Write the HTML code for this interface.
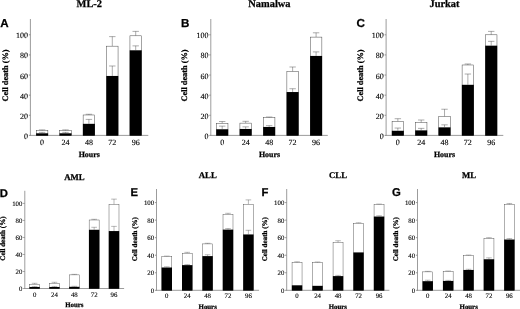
<!DOCTYPE html>
<html><head><meta charset="utf-8"><title>Figure</title>
<style>
html,body{margin:0;padding:0;background:#fff;}
body{width:520px;height:309px;overflow:hidden;font-family:"Liberation Serif",serif;}
svg{display:block;font-family:"Liberation Serif",serif;filter:blur(0.45px);text-rendering:geometricPrecision;}
</style></head><body>
<svg width="520" height="309" viewBox="0 0 520 309">
<rect width="520" height="309" fill="#fff"/>
<!-- panel A -->
<text x="0.3" y="26.9" font-family="Liberation Sans, sans-serif" font-size="11.6" font-weight="bold" stroke="#000" stroke-width="0.25">A</text>
<text x="89.3" y="7.2" font-size="10.4" text-anchor="middle" font-weight="bold" stroke="#000" stroke-width="0.25">ML-2</text>
<line x1="30.4" y1="19" x2="30.4" y2="135.8" stroke="#8a8a8a" stroke-width="0.85"/>
<line x1="30" y1="135.4" x2="148.3" y2="135.4" stroke="#8a8a8a" stroke-width="0.85"/>
<line x1="28.9" y1="135.4" x2="30.4" y2="135.4" stroke="#8a8a8a" stroke-width="0.9"/>
<text x="28.1" y="138.88" font-size="8" text-anchor="end" stroke="#000" stroke-width="0.12">0</text>
<line x1="28.9" y1="115.28" x2="30.4" y2="115.28" stroke="#8a8a8a" stroke-width="0.9"/>
<text x="28.1" y="118.76" font-size="8" text-anchor="end" stroke="#000" stroke-width="0.12">20</text>
<line x1="28.9" y1="95.16" x2="30.4" y2="95.16" stroke="#8a8a8a" stroke-width="0.9"/>
<text x="28.1" y="98.64" font-size="8" text-anchor="end" stroke="#000" stroke-width="0.12">40</text>
<line x1="28.9" y1="75.04" x2="30.4" y2="75.04" stroke="#8a8a8a" stroke-width="0.9"/>
<text x="28.1" y="78.52" font-size="8" text-anchor="end" stroke="#000" stroke-width="0.12">60</text>
<line x1="28.9" y1="54.92" x2="30.4" y2="54.92" stroke="#8a8a8a" stroke-width="0.9"/>
<text x="28.1" y="58.4" font-size="8" text-anchor="end" stroke="#000" stroke-width="0.12">80</text>
<line x1="28.9" y1="34.8" x2="30.4" y2="34.8" stroke="#8a8a8a" stroke-width="0.9"/>
<text x="28.1" y="38.28" font-size="8" text-anchor="end" stroke="#000" stroke-width="0.12">100</text>
<line x1="42.1" y1="129.87" x2="42.1" y2="130.67" stroke="#3a3a3a" stroke-width="0.42"/>
<line x1="38.9" y1="129.87" x2="45.3" y2="129.87" stroke="#3a3a3a" stroke-width="0.42"/>
<rect x="36.34" y="130.67" width="11.52" height="4.73" fill="#fff" stroke="#404040" stroke-width="0.48"/>
<rect x="36.1" y="133.29" width="12" height="2.41" fill="#000"/>
<line x1="42.1" y1="132.38" x2="42.1" y2="133.29" stroke="#3a3a3a" stroke-width="0.42"/>
<line x1="38.9" y1="132.38" x2="45.3" y2="132.38" stroke="#3a3a3a" stroke-width="0.42"/>
<text x="42.1" y="145.1" font-size="8" text-anchor="middle" stroke="#000" stroke-width="0.12">0</text>
<line x1="65.5" y1="129.87" x2="65.5" y2="130.67" stroke="#3a3a3a" stroke-width="0.42"/>
<line x1="62.3" y1="129.87" x2="68.7" y2="129.87" stroke="#3a3a3a" stroke-width="0.42"/>
<rect x="59.74" y="130.67" width="11.52" height="4.73" fill="#fff" stroke="#404040" stroke-width="0.48"/>
<rect x="59.5" y="133.29" width="12" height="2.41" fill="#000"/>
<line x1="65.5" y1="132.38" x2="65.5" y2="133.29" stroke="#3a3a3a" stroke-width="0.42"/>
<line x1="62.3" y1="132.38" x2="68.7" y2="132.38" stroke="#3a3a3a" stroke-width="0.42"/>
<text x="65.5" y="145.1" font-size="8" text-anchor="middle" stroke="#000" stroke-width="0.12">24</text>
<line x1="88.9" y1="114.27" x2="88.9" y2="114.98" stroke="#3a3a3a" stroke-width="0.42"/>
<line x1="85.7" y1="114.27" x2="92.1" y2="114.27" stroke="#3a3a3a" stroke-width="0.42"/>
<rect x="83.14" y="114.98" width="11.52" height="20.42" fill="#fff" stroke="#404040" stroke-width="0.48"/>
<rect x="82.9" y="123.83" width="12" height="11.87" fill="#000"/>
<line x1="88.9" y1="119.4" x2="88.9" y2="123.83" stroke="#3a3a3a" stroke-width="0.42"/>
<line x1="85.7" y1="119.4" x2="92.1" y2="119.4" stroke="#3a3a3a" stroke-width="0.42"/>
<text x="88.9" y="145.1" font-size="8" text-anchor="middle" stroke="#000" stroke-width="0.12">48</text>
<line x1="112.3" y1="36.61" x2="112.3" y2="46.17" stroke="#3a3a3a" stroke-width="0.42"/>
<line x1="109.1" y1="36.61" x2="115.5" y2="36.61" stroke="#3a3a3a" stroke-width="0.42"/>
<rect x="106.54" y="46.17" width="11.52" height="89.23" fill="#fff" stroke="#404040" stroke-width="0.48"/>
<rect x="106.3" y="75.95" width="12" height="59.75" fill="#000"/>
<line x1="112.3" y1="65.99" x2="112.3" y2="75.95" stroke="#3a3a3a" stroke-width="0.42"/>
<line x1="109.1" y1="65.99" x2="115.5" y2="65.99" stroke="#3a3a3a" stroke-width="0.42"/>
<text x="112.3" y="145.1" font-size="8" text-anchor="middle" stroke="#000" stroke-width="0.12">72</text>
<line x1="135.7" y1="31.38" x2="135.7" y2="35.81" stroke="#3a3a3a" stroke-width="0.42"/>
<line x1="132.5" y1="31.38" x2="138.9" y2="31.38" stroke="#3a3a3a" stroke-width="0.42"/>
<rect x="129.94" y="35.81" width="11.52" height="99.59" fill="#fff" stroke="#404040" stroke-width="0.48"/>
<rect x="129.7" y="50.29" width="12" height="85.41" fill="#000"/>
<line x1="135.7" y1="45.87" x2="135.7" y2="50.29" stroke="#3a3a3a" stroke-width="0.42"/>
<line x1="132.5" y1="45.87" x2="138.9" y2="45.87" stroke="#3a3a3a" stroke-width="0.42"/>
<text x="135.7" y="145.1" font-size="8" text-anchor="middle" stroke="#000" stroke-width="0.12">96</text>
<text x="89.2" y="156.9" font-size="7.9" text-anchor="middle" font-weight="bold" stroke="#000" stroke-width="0.25">Hours</text>
<text transform="translate(7.5,75.5) rotate(-90)" font-size="8.3" font-weight="bold" stroke="#000" stroke-width="0.25" text-anchor="middle">Cell death (%)</text>
<!-- panel B -->
<text x="181.1" y="26.9" font-family="Liberation Sans, sans-serif" font-size="11.6" font-weight="bold" stroke="#000" stroke-width="0.25">B</text>
<text x="269.4" y="7.2" font-size="10.4" text-anchor="middle" font-weight="bold" stroke="#000" stroke-width="0.25">Namalwa</text>
<line x1="210.8" y1="19" x2="210.8" y2="135.8" stroke="#8a8a8a" stroke-width="0.85"/>
<line x1="210.4" y1="135.4" x2="327.8" y2="135.4" stroke="#8a8a8a" stroke-width="0.85"/>
<line x1="209.3" y1="135.4" x2="210.8" y2="135.4" stroke="#8a8a8a" stroke-width="0.9"/>
<text x="208.5" y="138.88" font-size="8" text-anchor="end" stroke="#000" stroke-width="0.12">0</text>
<line x1="209.3" y1="115.28" x2="210.8" y2="115.28" stroke="#8a8a8a" stroke-width="0.9"/>
<text x="208.5" y="118.76" font-size="8" text-anchor="end" stroke="#000" stroke-width="0.12">20</text>
<line x1="209.3" y1="95.16" x2="210.8" y2="95.16" stroke="#8a8a8a" stroke-width="0.9"/>
<text x="208.5" y="98.64" font-size="8" text-anchor="end" stroke="#000" stroke-width="0.12">40</text>
<line x1="209.3" y1="75.04" x2="210.8" y2="75.04" stroke="#8a8a8a" stroke-width="0.9"/>
<text x="208.5" y="78.52" font-size="8" text-anchor="end" stroke="#000" stroke-width="0.12">60</text>
<line x1="209.3" y1="54.92" x2="210.8" y2="54.92" stroke="#8a8a8a" stroke-width="0.9"/>
<text x="208.5" y="58.4" font-size="8" text-anchor="end" stroke="#000" stroke-width="0.12">80</text>
<line x1="209.3" y1="34.8" x2="210.8" y2="34.8" stroke="#8a8a8a" stroke-width="0.9"/>
<text x="208.5" y="38.28" font-size="8" text-anchor="end" stroke="#000" stroke-width="0.12">100</text>
<line x1="222.2" y1="121.52" x2="222.2" y2="123.43" stroke="#3a3a3a" stroke-width="0.42"/>
<line x1="219" y1="121.52" x2="225.4" y2="121.52" stroke="#3a3a3a" stroke-width="0.42"/>
<rect x="216.44" y="123.43" width="11.52" height="11.97" fill="#fff" stroke="#404040" stroke-width="0.48"/>
<rect x="216.2" y="129.26" width="12" height="6.44" fill="#000"/>
<line x1="222.2" y1="126.14" x2="222.2" y2="129.26" stroke="#3a3a3a" stroke-width="0.42"/>
<line x1="219" y1="126.14" x2="225.4" y2="126.14" stroke="#3a3a3a" stroke-width="0.42"/>
<text x="222.2" y="145.1" font-size="8" text-anchor="middle" stroke="#000" stroke-width="0.12">0</text>
<line x1="245.67" y1="121.32" x2="245.67" y2="123.13" stroke="#3a3a3a" stroke-width="0.42"/>
<line x1="242.47" y1="121.32" x2="248.87" y2="121.32" stroke="#3a3a3a" stroke-width="0.42"/>
<rect x="239.91" y="123.13" width="11.52" height="12.27" fill="#fff" stroke="#404040" stroke-width="0.48"/>
<rect x="239.67" y="128.96" width="12" height="6.74" fill="#000"/>
<line x1="245.67" y1="126.85" x2="245.67" y2="128.96" stroke="#3a3a3a" stroke-width="0.42"/>
<line x1="242.47" y1="126.85" x2="248.87" y2="126.85" stroke="#3a3a3a" stroke-width="0.42"/>
<text x="245.67" y="145.1" font-size="8" text-anchor="middle" stroke="#000" stroke-width="0.12">24</text>
<line x1="269.15" y1="116.99" x2="269.15" y2="117.69" stroke="#3a3a3a" stroke-width="0.42"/>
<line x1="265.95" y1="116.99" x2="272.35" y2="116.99" stroke="#3a3a3a" stroke-width="0.42"/>
<rect x="263.39" y="117.69" width="11.52" height="17.71" fill="#fff" stroke="#404040" stroke-width="0.48"/>
<rect x="263.15" y="126.95" width="12" height="8.75" fill="#000"/>
<line x1="269.15" y1="125.64" x2="269.15" y2="126.95" stroke="#3a3a3a" stroke-width="0.42"/>
<line x1="265.95" y1="125.64" x2="272.35" y2="125.64" stroke="#3a3a3a" stroke-width="0.42"/>
<text x="269.15" y="145.1" font-size="8" text-anchor="middle" stroke="#000" stroke-width="0.12">48</text>
<line x1="292.62" y1="66.99" x2="292.62" y2="71.52" stroke="#3a3a3a" stroke-width="0.42"/>
<line x1="289.43" y1="66.99" x2="295.82" y2="66.99" stroke="#3a3a3a" stroke-width="0.42"/>
<rect x="286.87" y="71.52" width="11.52" height="63.88" fill="#fff" stroke="#404040" stroke-width="0.48"/>
<rect x="286.62" y="92.04" width="12" height="43.66" fill="#000"/>
<line x1="292.62" y1="88.72" x2="292.62" y2="92.04" stroke="#3a3a3a" stroke-width="0.42"/>
<line x1="289.43" y1="88.72" x2="295.82" y2="88.72" stroke="#3a3a3a" stroke-width="0.42"/>
<text x="292.62" y="145.1" font-size="8" text-anchor="middle" stroke="#000" stroke-width="0.12">72</text>
<line x1="316.1" y1="32.79" x2="316.1" y2="37.11" stroke="#3a3a3a" stroke-width="0.42"/>
<line x1="312.9" y1="32.79" x2="319.3" y2="32.79" stroke="#3a3a3a" stroke-width="0.42"/>
<rect x="310.34" y="37.11" width="11.52" height="98.29" fill="#fff" stroke="#404040" stroke-width="0.48"/>
<rect x="310.1" y="55.93" width="12" height="79.77" fill="#000"/>
<line x1="316.1" y1="51.9" x2="316.1" y2="55.93" stroke="#3a3a3a" stroke-width="0.42"/>
<line x1="312.9" y1="51.9" x2="319.3" y2="51.9" stroke="#3a3a3a" stroke-width="0.42"/>
<text x="316.1" y="145.1" font-size="8" text-anchor="middle" stroke="#000" stroke-width="0.12">96</text>
<text x="269.5" y="156.9" font-size="7.9" text-anchor="middle" font-weight="bold" stroke="#000" stroke-width="0.25">Hours</text>
<text transform="translate(186.6,75.5) rotate(-90)" font-size="8.3" font-weight="bold" stroke="#000" stroke-width="0.25" text-anchor="middle">Cell death (%)</text>
<!-- panel C -->
<text x="356.5" y="26.9" font-family="Liberation Sans, sans-serif" font-size="11.6" font-weight="bold" stroke="#000" stroke-width="0.25">C</text>
<text x="444.5" y="7.2" font-size="10.4" text-anchor="middle" font-weight="bold" stroke="#000" stroke-width="0.25">Jurkat</text>
<line x1="386.1" y1="19" x2="386.1" y2="135.8" stroke="#8a8a8a" stroke-width="0.85"/>
<line x1="385.7" y1="135.4" x2="503.3" y2="135.4" stroke="#8a8a8a" stroke-width="0.85"/>
<line x1="384.6" y1="135.4" x2="386.1" y2="135.4" stroke="#8a8a8a" stroke-width="0.9"/>
<text x="383.8" y="138.88" font-size="8" text-anchor="end" stroke="#000" stroke-width="0.12">0</text>
<line x1="384.6" y1="115.28" x2="386.1" y2="115.28" stroke="#8a8a8a" stroke-width="0.9"/>
<text x="383.8" y="118.76" font-size="8" text-anchor="end" stroke="#000" stroke-width="0.12">20</text>
<line x1="384.6" y1="95.16" x2="386.1" y2="95.16" stroke="#8a8a8a" stroke-width="0.9"/>
<text x="383.8" y="98.64" font-size="8" text-anchor="end" stroke="#000" stroke-width="0.12">40</text>
<line x1="384.6" y1="75.04" x2="386.1" y2="75.04" stroke="#8a8a8a" stroke-width="0.9"/>
<text x="383.8" y="78.52" font-size="8" text-anchor="end" stroke="#000" stroke-width="0.12">60</text>
<line x1="384.6" y1="54.92" x2="386.1" y2="54.92" stroke="#8a8a8a" stroke-width="0.9"/>
<text x="383.8" y="58.4" font-size="8" text-anchor="end" stroke="#000" stroke-width="0.12">80</text>
<line x1="384.6" y1="34.8" x2="386.1" y2="34.8" stroke="#8a8a8a" stroke-width="0.9"/>
<text x="383.8" y="38.28" font-size="8" text-anchor="end" stroke="#000" stroke-width="0.12">100</text>
<line x1="397.85" y1="118.7" x2="397.85" y2="121.52" stroke="#3a3a3a" stroke-width="0.42"/>
<line x1="394.65" y1="118.7" x2="401.05" y2="118.7" stroke="#3a3a3a" stroke-width="0.42"/>
<rect x="392.09" y="121.52" width="11.52" height="13.88" fill="#fff" stroke="#404040" stroke-width="0.48"/>
<rect x="391.85" y="130.77" width="12" height="4.93" fill="#000"/>
<line x1="397.85" y1="128.06" x2="397.85" y2="130.77" stroke="#3a3a3a" stroke-width="0.42"/>
<line x1="394.65" y1="128.06" x2="401.05" y2="128.06" stroke="#3a3a3a" stroke-width="0.42"/>
<text x="397.85" y="145.1" font-size="8" text-anchor="middle" stroke="#000" stroke-width="0.12">0</text>
<line x1="421.19" y1="120.01" x2="421.19" y2="122.62" stroke="#3a3a3a" stroke-width="0.42"/>
<line x1="417.99" y1="120.01" x2="424.39" y2="120.01" stroke="#3a3a3a" stroke-width="0.42"/>
<rect x="415.43" y="122.62" width="11.52" height="12.78" fill="#fff" stroke="#404040" stroke-width="0.48"/>
<rect x="415.19" y="130.37" width="12" height="5.33" fill="#000"/>
<line x1="421.19" y1="128.36" x2="421.19" y2="130.37" stroke="#3a3a3a" stroke-width="0.42"/>
<line x1="417.99" y1="128.36" x2="424.39" y2="128.36" stroke="#3a3a3a" stroke-width="0.42"/>
<text x="421.19" y="145.1" font-size="8" text-anchor="middle" stroke="#000" stroke-width="0.12">24</text>
<line x1="444.53" y1="109.24" x2="444.53" y2="116.59" stroke="#3a3a3a" stroke-width="0.42"/>
<line x1="441.33" y1="109.24" x2="447.73" y2="109.24" stroke="#3a3a3a" stroke-width="0.42"/>
<rect x="438.77" y="116.59" width="11.52" height="18.81" fill="#fff" stroke="#404040" stroke-width="0.48"/>
<rect x="438.53" y="127.35" width="12" height="8.35" fill="#000"/>
<line x1="444.53" y1="124.84" x2="444.53" y2="127.35" stroke="#3a3a3a" stroke-width="0.42"/>
<line x1="441.33" y1="124.84" x2="447.73" y2="124.84" stroke="#3a3a3a" stroke-width="0.42"/>
<text x="444.53" y="145.1" font-size="8" text-anchor="middle" stroke="#000" stroke-width="0.12">48</text>
<line x1="467.87" y1="63.97" x2="467.87" y2="64.98" stroke="#3a3a3a" stroke-width="0.42"/>
<line x1="464.67" y1="63.97" x2="471.07" y2="63.97" stroke="#3a3a3a" stroke-width="0.42"/>
<rect x="462.11" y="64.98" width="11.52" height="70.42" fill="#fff" stroke="#404040" stroke-width="0.48"/>
<rect x="461.87" y="84.8" width="12" height="50.9" fill="#000"/>
<line x1="467.87" y1="74.03" x2="467.87" y2="84.8" stroke="#3a3a3a" stroke-width="0.42"/>
<line x1="464.67" y1="74.03" x2="471.07" y2="74.03" stroke="#3a3a3a" stroke-width="0.42"/>
<text x="467.87" y="145.1" font-size="8" text-anchor="middle" stroke="#000" stroke-width="0.12">72</text>
<line x1="491.21" y1="31.38" x2="491.21" y2="34.8" stroke="#3a3a3a" stroke-width="0.42"/>
<line x1="488.01" y1="31.38" x2="494.41" y2="31.38" stroke="#3a3a3a" stroke-width="0.42"/>
<rect x="485.45" y="34.8" width="11.52" height="100.6" fill="#fff" stroke="#404040" stroke-width="0.48"/>
<rect x="485.21" y="45.66" width="12" height="90.04" fill="#000"/>
<line x1="491.21" y1="41.34" x2="491.21" y2="45.66" stroke="#3a3a3a" stroke-width="0.42"/>
<line x1="488.01" y1="41.34" x2="494.41" y2="41.34" stroke="#3a3a3a" stroke-width="0.42"/>
<text x="491.21" y="145.1" font-size="8" text-anchor="middle" stroke="#000" stroke-width="0.12">96</text>
<text x="444.5" y="156.9" font-size="7.9" text-anchor="middle" font-weight="bold" stroke="#000" stroke-width="0.25">Hours</text>
<text transform="translate(362.5,75.5) rotate(-90)" font-size="8.3" font-weight="bold" stroke="#000" stroke-width="0.25" text-anchor="middle">Cell death (%)</text>
<!-- panel D -->
<text x="-0.3" y="196.7" font-family="Liberation Sans, sans-serif" font-size="11.3" font-weight="bold" stroke="#000" stroke-width="0.25">D</text>
<text x="74.4" y="180" font-size="8.75" text-anchor="middle" font-weight="bold" stroke="#000" stroke-width="0.25">AML</text>
<line x1="24.8" y1="190.8" x2="24.8" y2="288.9" stroke="#8a8a8a" stroke-width="0.85"/>
<line x1="24.4" y1="288.5" x2="124.1" y2="288.5" stroke="#8a8a8a" stroke-width="0.85"/>
<line x1="23.2" y1="288.5" x2="24.8" y2="288.5" stroke="#8a8a8a" stroke-width="0.9"/>
<text x="22.4" y="291.18" font-size="6.8" text-anchor="end" stroke="#000" stroke-width="0.12">0</text>
<line x1="23.2" y1="271.48" x2="24.8" y2="271.48" stroke="#8a8a8a" stroke-width="0.9"/>
<text x="22.4" y="274.16" font-size="6.8" text-anchor="end" stroke="#000" stroke-width="0.12">20</text>
<line x1="23.2" y1="254.46" x2="24.8" y2="254.46" stroke="#8a8a8a" stroke-width="0.9"/>
<text x="22.4" y="257.14" font-size="6.8" text-anchor="end" stroke="#000" stroke-width="0.12">40</text>
<line x1="23.2" y1="237.44" x2="24.8" y2="237.44" stroke="#8a8a8a" stroke-width="0.9"/>
<text x="22.4" y="240.12" font-size="6.8" text-anchor="end" stroke="#000" stroke-width="0.12">60</text>
<line x1="23.2" y1="220.42" x2="24.8" y2="220.42" stroke="#8a8a8a" stroke-width="0.9"/>
<text x="22.4" y="223.1" font-size="6.8" text-anchor="end" stroke="#000" stroke-width="0.12">80</text>
<line x1="23.2" y1="203.4" x2="24.8" y2="203.4" stroke="#8a8a8a" stroke-width="0.9"/>
<text x="22.4" y="206.08" font-size="6.8" text-anchor="end" stroke="#000" stroke-width="0.12">100</text>
<line x1="34.6" y1="283.31" x2="34.6" y2="284.25" stroke="#3a3a3a" stroke-width="0.36"/>
<line x1="31.8" y1="283.31" x2="37.4" y2="283.31" stroke="#3a3a3a" stroke-width="0.36"/>
<rect x="29.61" y="284.25" width="9.98" height="4.25" fill="#fff" stroke="#404040" stroke-width="0.42"/>
<rect x="29.4" y="286.97" width="10.4" height="1.83" fill="#000"/>
<line x1="34.6" y1="286.54" x2="34.6" y2="286.97" stroke="#3a3a3a" stroke-width="0.36"/>
<line x1="31.8" y1="286.54" x2="37.4" y2="286.54" stroke="#3a3a3a" stroke-width="0.36"/>
<text x="34.6" y="297.3" font-size="6.8" text-anchor="middle" stroke="#000" stroke-width="0.12">0</text>
<line x1="54.45" y1="282.29" x2="54.45" y2="283.31" stroke="#3a3a3a" stroke-width="0.36"/>
<line x1="51.65" y1="282.29" x2="57.25" y2="282.29" stroke="#3a3a3a" stroke-width="0.36"/>
<rect x="49.46" y="283.31" width="9.98" height="5.19" fill="#fff" stroke="#404040" stroke-width="0.42"/>
<rect x="49.25" y="286.97" width="10.4" height="1.83" fill="#000"/>
<line x1="54.45" y1="286.46" x2="54.45" y2="286.97" stroke="#3a3a3a" stroke-width="0.36"/>
<line x1="51.65" y1="286.46" x2="57.25" y2="286.46" stroke="#3a3a3a" stroke-width="0.36"/>
<text x="54.45" y="297.3" font-size="6.8" text-anchor="middle" stroke="#000" stroke-width="0.12">24</text>
<line x1="74.3" y1="274.37" x2="74.3" y2="274.88" stroke="#3a3a3a" stroke-width="0.36"/>
<line x1="71.5" y1="274.37" x2="77.1" y2="274.37" stroke="#3a3a3a" stroke-width="0.36"/>
<rect x="69.31" y="274.88" width="9.98" height="13.62" fill="#fff" stroke="#404040" stroke-width="0.42"/>
<rect x="69.1" y="286.8" width="10.4" height="2" fill="#000"/>
<line x1="74.3" y1="286.29" x2="74.3" y2="286.8" stroke="#3a3a3a" stroke-width="0.36"/>
<line x1="71.5" y1="286.29" x2="77.1" y2="286.29" stroke="#3a3a3a" stroke-width="0.36"/>
<text x="74.3" y="297.3" font-size="6.8" text-anchor="middle" stroke="#000" stroke-width="0.12">48</text>
<line x1="94.15" y1="219.31" x2="94.15" y2="219.99" stroke="#3a3a3a" stroke-width="0.36"/>
<line x1="91.35" y1="219.31" x2="96.95" y2="219.31" stroke="#3a3a3a" stroke-width="0.36"/>
<rect x="89.16" y="219.99" width="9.98" height="68.51" fill="#fff" stroke="#404040" stroke-width="0.42"/>
<rect x="88.95" y="229.78" width="10.4" height="59.02" fill="#000"/>
<line x1="94.15" y1="227.31" x2="94.15" y2="229.78" stroke="#3a3a3a" stroke-width="0.36"/>
<line x1="91.35" y1="227.31" x2="96.95" y2="227.31" stroke="#3a3a3a" stroke-width="0.36"/>
<text x="94.15" y="297.3" font-size="6.8" text-anchor="middle" stroke="#000" stroke-width="0.12">72</text>
<line x1="114" y1="199.14" x2="114" y2="204.51" stroke="#3a3a3a" stroke-width="0.36"/>
<line x1="111.2" y1="199.14" x2="116.8" y2="199.14" stroke="#3a3a3a" stroke-width="0.36"/>
<rect x="109.01" y="204.51" width="9.98" height="83.99" fill="#fff" stroke="#404040" stroke-width="0.42"/>
<rect x="108.8" y="231.06" width="10.4" height="57.74" fill="#000"/>
<line x1="114" y1="226.38" x2="114" y2="231.06" stroke="#3a3a3a" stroke-width="0.36"/>
<line x1="111.2" y1="226.38" x2="116.8" y2="226.38" stroke="#3a3a3a" stroke-width="0.36"/>
<text x="114" y="297.3" font-size="6.8" text-anchor="middle" stroke="#000" stroke-width="0.12">96</text>
<text x="74.3" y="307" font-size="6.85" text-anchor="middle" font-weight="bold" stroke="#000" stroke-width="0.25">Hours</text>
<text transform="translate(5.3,238.6) rotate(-90)" font-size="7.05" font-weight="bold" stroke="#000" stroke-width="0.25" text-anchor="middle">Cell death (%)</text>
<!-- panel E -->
<text x="130.4" y="196.2" font-family="Liberation Sans, sans-serif" font-size="11.3" font-weight="bold" stroke="#000" stroke-width="0.25">E</text>
<text x="207.75" y="178" font-size="8.75" text-anchor="middle" font-weight="bold" stroke="#000" stroke-width="0.25">ALL</text>
<line x1="156.5" y1="189" x2="156.5" y2="290.7" stroke="#8a8a8a" stroke-width="0.85"/>
<line x1="156.1" y1="290.3" x2="259.1" y2="290.3" stroke="#8a8a8a" stroke-width="0.85"/>
<line x1="154.9" y1="290.3" x2="156.5" y2="290.3" stroke="#8a8a8a" stroke-width="0.9"/>
<text x="154.1" y="292.98" font-size="6.8" text-anchor="end" stroke="#000" stroke-width="0.12">0</text>
<line x1="154.9" y1="272.76" x2="156.5" y2="272.76" stroke="#8a8a8a" stroke-width="0.9"/>
<text x="154.1" y="275.44" font-size="6.8" text-anchor="end" stroke="#000" stroke-width="0.12">20</text>
<line x1="154.9" y1="255.22" x2="156.5" y2="255.22" stroke="#8a8a8a" stroke-width="0.9"/>
<text x="154.1" y="257.9" font-size="6.8" text-anchor="end" stroke="#000" stroke-width="0.12">40</text>
<line x1="154.9" y1="237.68" x2="156.5" y2="237.68" stroke="#8a8a8a" stroke-width="0.9"/>
<text x="154.1" y="240.36" font-size="6.8" text-anchor="end" stroke="#000" stroke-width="0.12">60</text>
<line x1="154.9" y1="220.14" x2="156.5" y2="220.14" stroke="#8a8a8a" stroke-width="0.9"/>
<text x="154.1" y="222.82" font-size="6.8" text-anchor="end" stroke="#000" stroke-width="0.12">80</text>
<line x1="154.9" y1="202.6" x2="156.5" y2="202.6" stroke="#8a8a8a" stroke-width="0.9"/>
<text x="154.1" y="205.28" font-size="6.8" text-anchor="end" stroke="#000" stroke-width="0.12">100</text>
<line x1="166.8" y1="256.1" x2="166.8" y2="256.62" stroke="#3a3a3a" stroke-width="0.36"/>
<line x1="164" y1="256.1" x2="169.6" y2="256.1" stroke="#3a3a3a" stroke-width="0.36"/>
<rect x="161.81" y="256.62" width="9.98" height="33.68" fill="#fff" stroke="#404040" stroke-width="0.42"/>
<rect x="161.6" y="267.5" width="10.4" height="23.1" fill="#000"/>
<line x1="166.8" y1="266.8" x2="166.8" y2="267.5" stroke="#3a3a3a" stroke-width="0.36"/>
<line x1="164" y1="266.8" x2="169.6" y2="266.8" stroke="#3a3a3a" stroke-width="0.36"/>
<text x="166.8" y="298.2" font-size="6.8" text-anchor="middle" stroke="#000" stroke-width="0.12">0</text>
<line x1="187.2" y1="252.33" x2="187.2" y2="253.2" stroke="#3a3a3a" stroke-width="0.36"/>
<line x1="184.4" y1="252.33" x2="190" y2="252.33" stroke="#3a3a3a" stroke-width="0.36"/>
<rect x="182.21" y="253.2" width="9.98" height="37.1" fill="#fff" stroke="#404040" stroke-width="0.42"/>
<rect x="182" y="265.13" width="10.4" height="25.47" fill="#000"/>
<line x1="187.2" y1="264.6" x2="187.2" y2="265.13" stroke="#3a3a3a" stroke-width="0.36"/>
<line x1="184.4" y1="264.6" x2="190" y2="264.6" stroke="#3a3a3a" stroke-width="0.36"/>
<text x="187.2" y="298.2" font-size="6.8" text-anchor="middle" stroke="#000" stroke-width="0.12">24</text>
<line x1="207.6" y1="243.29" x2="207.6" y2="243.91" stroke="#3a3a3a" stroke-width="0.36"/>
<line x1="204.8" y1="243.29" x2="210.4" y2="243.29" stroke="#3a3a3a" stroke-width="0.36"/>
<rect x="202.61" y="243.91" width="9.98" height="46.39" fill="#fff" stroke="#404040" stroke-width="0.42"/>
<rect x="202.4" y="256.1" width="10.4" height="34.5" fill="#000"/>
<line x1="207.6" y1="254.78" x2="207.6" y2="256.1" stroke="#3a3a3a" stroke-width="0.36"/>
<line x1="204.8" y1="254.78" x2="210.4" y2="254.78" stroke="#3a3a3a" stroke-width="0.36"/>
<text x="207.6" y="298.2" font-size="6.8" text-anchor="middle" stroke="#000" stroke-width="0.12">48</text>
<line x1="228" y1="213.3" x2="228" y2="214.35" stroke="#3a3a3a" stroke-width="0.36"/>
<line x1="225.2" y1="213.3" x2="230.8" y2="213.3" stroke="#3a3a3a" stroke-width="0.36"/>
<rect x="223.01" y="214.35" width="9.98" height="75.95" fill="#fff" stroke="#404040" stroke-width="0.42"/>
<rect x="222.8" y="229.61" width="10.4" height="60.99" fill="#000"/>
<line x1="228" y1="228.56" x2="228" y2="229.61" stroke="#3a3a3a" stroke-width="0.36"/>
<line x1="225.2" y1="228.56" x2="230.8" y2="228.56" stroke="#3a3a3a" stroke-width="0.36"/>
<text x="228" y="298.2" font-size="6.8" text-anchor="middle" stroke="#000" stroke-width="0.12">72</text>
<line x1="248.4" y1="199.88" x2="248.4" y2="204.35" stroke="#3a3a3a" stroke-width="0.36"/>
<line x1="245.6" y1="199.88" x2="251.2" y2="199.88" stroke="#3a3a3a" stroke-width="0.36"/>
<rect x="243.41" y="204.35" width="9.98" height="85.95" fill="#fff" stroke="#404040" stroke-width="0.42"/>
<rect x="243.2" y="234.44" width="10.4" height="56.16" fill="#000"/>
<line x1="248.4" y1="230.31" x2="248.4" y2="234.44" stroke="#3a3a3a" stroke-width="0.36"/>
<line x1="245.6" y1="230.31" x2="251.2" y2="230.31" stroke="#3a3a3a" stroke-width="0.36"/>
<text x="248.4" y="298.2" font-size="6.8" text-anchor="middle" stroke="#000" stroke-width="0.12">96</text>
<text x="207.7" y="309.3" font-size="6.85" text-anchor="middle" font-weight="bold" stroke="#000" stroke-width="0.25">Hours</text>
<text transform="translate(136.6,239.2) rotate(-90)" font-size="7.05" font-weight="bold" stroke="#000" stroke-width="0.25" text-anchor="middle">Cell death (%)</text>
<!-- panel F -->
<text x="261.5" y="196.2" font-family="Liberation Sans, sans-serif" font-size="11.3" font-weight="bold" stroke="#000" stroke-width="0.25">F</text>
<text x="338" y="177.8" font-size="8.75" text-anchor="middle" font-weight="bold" stroke="#000" stroke-width="0.25">CLL</text>
<line x1="286.7" y1="189" x2="286.7" y2="290.7" stroke="#8a8a8a" stroke-width="0.85"/>
<line x1="286.3" y1="290.3" x2="389.4" y2="290.3" stroke="#8a8a8a" stroke-width="0.85"/>
<line x1="285.1" y1="290.3" x2="286.7" y2="290.3" stroke="#8a8a8a" stroke-width="0.9"/>
<text x="284.3" y="292.98" font-size="6.8" text-anchor="end" stroke="#000" stroke-width="0.12">0</text>
<line x1="285.1" y1="272.76" x2="286.7" y2="272.76" stroke="#8a8a8a" stroke-width="0.9"/>
<text x="284.3" y="275.44" font-size="6.8" text-anchor="end" stroke="#000" stroke-width="0.12">20</text>
<line x1="285.1" y1="255.22" x2="286.7" y2="255.22" stroke="#8a8a8a" stroke-width="0.9"/>
<text x="284.3" y="257.9" font-size="6.8" text-anchor="end" stroke="#000" stroke-width="0.12">40</text>
<line x1="285.1" y1="237.68" x2="286.7" y2="237.68" stroke="#8a8a8a" stroke-width="0.9"/>
<text x="284.3" y="240.36" font-size="6.8" text-anchor="end" stroke="#000" stroke-width="0.12">60</text>
<line x1="285.1" y1="220.14" x2="286.7" y2="220.14" stroke="#8a8a8a" stroke-width="0.9"/>
<text x="284.3" y="222.82" font-size="6.8" text-anchor="end" stroke="#000" stroke-width="0.12">80</text>
<line x1="285.1" y1="202.6" x2="286.7" y2="202.6" stroke="#8a8a8a" stroke-width="0.9"/>
<text x="284.3" y="205.28" font-size="6.8" text-anchor="end" stroke="#000" stroke-width="0.12">100</text>
<line x1="297.05" y1="261.8" x2="297.05" y2="262.67" stroke="#3a3a3a" stroke-width="0.36"/>
<line x1="294.25" y1="261.8" x2="299.85" y2="261.8" stroke="#3a3a3a" stroke-width="0.36"/>
<rect x="292.06" y="262.67" width="9.98" height="27.63" fill="#fff" stroke="#404040" stroke-width="0.42"/>
<rect x="291.85" y="285.3" width="10.4" height="5.3" fill="#000"/>
<text x="297.05" y="298.2" font-size="6.8" text-anchor="middle" stroke="#000" stroke-width="0.12">0</text>
<line x1="317.55" y1="261.97" x2="317.55" y2="262.67" stroke="#3a3a3a" stroke-width="0.36"/>
<line x1="314.75" y1="261.97" x2="320.35" y2="261.97" stroke="#3a3a3a" stroke-width="0.36"/>
<rect x="312.56" y="262.67" width="9.98" height="27.63" fill="#fff" stroke="#404040" stroke-width="0.42"/>
<rect x="312.35" y="285.83" width="10.4" height="4.77" fill="#000"/>
<text x="317.55" y="298.2" font-size="6.8" text-anchor="middle" stroke="#000" stroke-width="0.12">24</text>
<line x1="338.05" y1="240.75" x2="338.05" y2="242.5" stroke="#3a3a3a" stroke-width="0.36"/>
<line x1="335.25" y1="240.75" x2="340.85" y2="240.75" stroke="#3a3a3a" stroke-width="0.36"/>
<rect x="333.06" y="242.5" width="9.98" height="47.8" fill="#fff" stroke="#404040" stroke-width="0.42"/>
<rect x="332.85" y="276.09" width="10.4" height="14.51" fill="#000"/>
<line x1="338.05" y1="275.39" x2="338.05" y2="276.09" stroke="#3a3a3a" stroke-width="0.36"/>
<line x1="335.25" y1="275.39" x2="340.85" y2="275.39" stroke="#3a3a3a" stroke-width="0.36"/>
<text x="338.05" y="298.2" font-size="6.8" text-anchor="middle" stroke="#000" stroke-width="0.12">48</text>
<line x1="358.55" y1="222.77" x2="358.55" y2="223.38" stroke="#3a3a3a" stroke-width="0.36"/>
<line x1="355.75" y1="222.77" x2="361.35" y2="222.77" stroke="#3a3a3a" stroke-width="0.36"/>
<rect x="353.56" y="223.38" width="9.98" height="66.92" fill="#fff" stroke="#404040" stroke-width="0.42"/>
<rect x="353.35" y="252.41" width="10.4" height="38.19" fill="#000"/>
<text x="358.55" y="298.2" font-size="6.8" text-anchor="middle" stroke="#000" stroke-width="0.12">72</text>
<line x1="379.05" y1="204.09" x2="379.05" y2="204.62" stroke="#3a3a3a" stroke-width="0.36"/>
<line x1="376.25" y1="204.09" x2="381.85" y2="204.09" stroke="#3a3a3a" stroke-width="0.36"/>
<rect x="374.06" y="204.62" width="9.98" height="85.68" fill="#fff" stroke="#404040" stroke-width="0.42"/>
<rect x="373.85" y="216.54" width="10.4" height="74.06" fill="#000"/>
<line x1="379.05" y1="215.75" x2="379.05" y2="216.54" stroke="#3a3a3a" stroke-width="0.36"/>
<line x1="376.25" y1="215.75" x2="381.85" y2="215.75" stroke="#3a3a3a" stroke-width="0.36"/>
<text x="379.05" y="298.2" font-size="6.8" text-anchor="middle" stroke="#000" stroke-width="0.12">96</text>
<text x="337.9" y="309.3" font-size="6.85" text-anchor="middle" font-weight="bold" stroke="#000" stroke-width="0.25">Hours</text>
<text transform="translate(266.7,239.2) rotate(-90)" font-size="7.05" font-weight="bold" stroke="#000" stroke-width="0.25" text-anchor="middle">Cell death (%)</text>
<!-- panel G -->
<text x="392" y="196.2" font-family="Liberation Sans, sans-serif" font-size="11.3" font-weight="bold" stroke="#000" stroke-width="0.25">G</text>
<text x="469" y="177.8" font-size="8.75" text-anchor="middle" font-weight="bold" stroke="#000" stroke-width="0.25">ML</text>
<line x1="417.5" y1="189" x2="417.5" y2="290.7" stroke="#8a8a8a" stroke-width="0.85"/>
<line x1="417.1" y1="290.3" x2="520" y2="290.3" stroke="#8a8a8a" stroke-width="0.85"/>
<line x1="415.9" y1="290.3" x2="417.5" y2="290.3" stroke="#8a8a8a" stroke-width="0.9"/>
<text x="415.1" y="292.98" font-size="6.8" text-anchor="end" stroke="#000" stroke-width="0.12">0</text>
<line x1="415.9" y1="272.76" x2="417.5" y2="272.76" stroke="#8a8a8a" stroke-width="0.9"/>
<text x="415.1" y="275.44" font-size="6.8" text-anchor="end" stroke="#000" stroke-width="0.12">20</text>
<line x1="415.9" y1="255.22" x2="417.5" y2="255.22" stroke="#8a8a8a" stroke-width="0.9"/>
<text x="415.1" y="257.9" font-size="6.8" text-anchor="end" stroke="#000" stroke-width="0.12">40</text>
<line x1="415.9" y1="237.68" x2="417.5" y2="237.68" stroke="#8a8a8a" stroke-width="0.9"/>
<text x="415.1" y="240.36" font-size="6.8" text-anchor="end" stroke="#000" stroke-width="0.12">60</text>
<line x1="415.9" y1="220.14" x2="417.5" y2="220.14" stroke="#8a8a8a" stroke-width="0.9"/>
<text x="415.1" y="222.82" font-size="6.8" text-anchor="end" stroke="#000" stroke-width="0.12">80</text>
<line x1="415.9" y1="202.6" x2="417.5" y2="202.6" stroke="#8a8a8a" stroke-width="0.9"/>
<text x="415.1" y="205.28" font-size="6.8" text-anchor="end" stroke="#000" stroke-width="0.12">100</text>
<line x1="427.75" y1="271.36" x2="427.75" y2="271.88" stroke="#3a3a3a" stroke-width="0.36"/>
<line x1="424.95" y1="271.36" x2="430.55" y2="271.36" stroke="#3a3a3a" stroke-width="0.36"/>
<rect x="422.76" y="271.88" width="9.98" height="18.42" fill="#fff" stroke="#404040" stroke-width="0.42"/>
<rect x="422.55" y="281.18" width="10.4" height="9.42" fill="#000"/>
<line x1="427.75" y1="280.21" x2="427.75" y2="281.18" stroke="#3a3a3a" stroke-width="0.36"/>
<line x1="424.95" y1="280.21" x2="430.55" y2="280.21" stroke="#3a3a3a" stroke-width="0.36"/>
<text x="427.75" y="298.2" font-size="6.8" text-anchor="middle" stroke="#000" stroke-width="0.12">0</text>
<line x1="448.15" y1="271.01" x2="448.15" y2="271.62" stroke="#3a3a3a" stroke-width="0.36"/>
<line x1="445.35" y1="271.01" x2="450.95" y2="271.01" stroke="#3a3a3a" stroke-width="0.36"/>
<rect x="443.16" y="271.62" width="9.98" height="18.68" fill="#fff" stroke="#404040" stroke-width="0.42"/>
<rect x="442.95" y="280.92" width="10.4" height="9.68" fill="#000"/>
<line x1="448.15" y1="280.39" x2="448.15" y2="280.92" stroke="#3a3a3a" stroke-width="0.36"/>
<line x1="445.35" y1="280.39" x2="450.95" y2="280.39" stroke="#3a3a3a" stroke-width="0.36"/>
<text x="448.15" y="298.2" font-size="6.8" text-anchor="middle" stroke="#000" stroke-width="0.12">24</text>
<line x1="468.55" y1="255.04" x2="468.55" y2="255.66" stroke="#3a3a3a" stroke-width="0.36"/>
<line x1="465.75" y1="255.04" x2="471.35" y2="255.04" stroke="#3a3a3a" stroke-width="0.36"/>
<rect x="463.56" y="255.66" width="9.98" height="34.64" fill="#fff" stroke="#404040" stroke-width="0.42"/>
<rect x="463.35" y="269.95" width="10.4" height="20.65" fill="#000"/>
<line x1="468.55" y1="269.25" x2="468.55" y2="269.95" stroke="#3a3a3a" stroke-width="0.36"/>
<line x1="465.75" y1="269.25" x2="471.35" y2="269.25" stroke="#3a3a3a" stroke-width="0.36"/>
<text x="468.55" y="298.2" font-size="6.8" text-anchor="middle" stroke="#000" stroke-width="0.12">48</text>
<line x1="488.95" y1="237.68" x2="488.95" y2="238.56" stroke="#3a3a3a" stroke-width="0.36"/>
<line x1="486.15" y1="237.68" x2="491.75" y2="237.68" stroke="#3a3a3a" stroke-width="0.36"/>
<rect x="483.96" y="238.56" width="9.98" height="51.74" fill="#fff" stroke="#404040" stroke-width="0.42"/>
<rect x="483.75" y="259.25" width="10.4" height="31.35" fill="#000"/>
<line x1="488.95" y1="257.85" x2="488.95" y2="259.25" stroke="#3a3a3a" stroke-width="0.36"/>
<line x1="486.15" y1="257.85" x2="491.75" y2="257.85" stroke="#3a3a3a" stroke-width="0.36"/>
<text x="488.95" y="298.2" font-size="6.8" text-anchor="middle" stroke="#000" stroke-width="0.12">72</text>
<line x1="509.35" y1="203.48" x2="509.35" y2="204.62" stroke="#3a3a3a" stroke-width="0.36"/>
<line x1="506.55" y1="203.48" x2="512.15" y2="203.48" stroke="#3a3a3a" stroke-width="0.36"/>
<rect x="504.36" y="204.62" width="9.98" height="85.68" fill="#fff" stroke="#404040" stroke-width="0.42"/>
<rect x="504.15" y="239.52" width="10.4" height="51.08" fill="#000"/>
<line x1="509.35" y1="238.56" x2="509.35" y2="239.52" stroke="#3a3a3a" stroke-width="0.36"/>
<line x1="506.55" y1="238.56" x2="512.15" y2="238.56" stroke="#3a3a3a" stroke-width="0.36"/>
<text x="509.35" y="298.2" font-size="6.8" text-anchor="middle" stroke="#000" stroke-width="0.12">96</text>
<text x="468.7" y="309.3" font-size="6.85" text-anchor="middle" font-weight="bold" stroke="#000" stroke-width="0.25">Hours</text>
<text transform="translate(397.5,239.2) rotate(-90)" font-size="7.05" font-weight="bold" stroke="#000" stroke-width="0.25" text-anchor="middle">Cell death (%)</text>
</svg>
</body></html>
